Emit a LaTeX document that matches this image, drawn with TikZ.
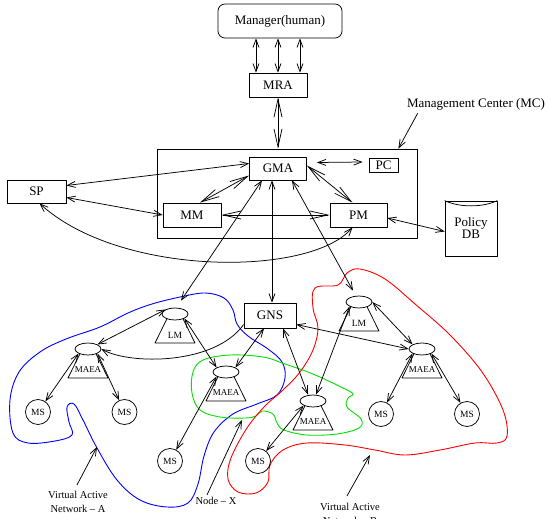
\documentclass[tikz,border=0pt]{standalone}
\usepackage{fontspec}
\setmainfont{Liberation Serif}
\usepackage{tikz}
\usetikzlibrary{arrows.meta,shapes.geometric}
\definecolor{vanA}{RGB}{0,0,255}
\definecolor{vanB}{RGB}{255,0,0}
\definecolor{nodeX}{RGB}{0,225,0}
\tikzset{fig/.style={line join=round,x=1pt,y=-1pt,line width=0.75pt},
  box/.style={draw,inner sep=0pt,font=\fontsize{13}{15}\selectfont},
  ell/.style={draw,ellipse,fill=white,minimum width=26pt,minimum height=12pt,inner sep=0pt},
  ms/.style={draw,circle,minimum size=25pt,inner sep=0pt,font=\fontsize{9.5}{11}\selectfont},
  note/.style={inner sep=0pt,align=center,font=\fontsize{10.5}{14}\selectfont},
  arr/.style={-{Straight Barb[length=8pt,width=6pt]}},
  dbl/.style={{Straight Barb[length=8pt,width=6pt]}-{Straight Barb[length=8pt,width=6pt]}},
  dbllong/.style={{Straight Barb[length=18pt,width=8pt]}-{Straight Barb[length=18pt,width=8pt]}},
  blob/.style={line width=0.9pt,smooth cycle,tension=0.6}}
% agent: ellipse on a trapezoid
\newcommand{\agent}[5]{%
  \draw (#2-8,#3+4.7)--(#2-20,#3+29)--(#2+20,#3+29)--(#2+8,#3+4.7);
  \node[ell] (#1) at (#2,#3) {};
  \node[inner sep=0pt,font=\fontsize{#5}{#5}\selectfont] (#1-lbl) at (#2,#3+21) {#4};}

\begin{document}
\begin{tikzpicture}[fig]
  \useasboundingbox (0,0) rectangle (549,519);
  % virtual networks
  \draw[vanA,blob] plot coordinates {(128,313) (152,304) (180,297) (205,293) (224,298) (233,310) (237,324) (248,336) (268,349) (282,362) (285,378) (277,395) (257,404) (233,414) (214,432) (204,456) (198,484) (188,503) (167,507) (140,500) (117,480) (97,448) (83,420) (74,404) (67,407) (69,422) (72,435) (55,441) (28,443) (13,433) (10,400) (19,372) (40,352) (66,339) (100,327)};
  \draw[nodeX,blob] plot coordinates {(193,372) (203,360) (230,355) (263,357) (285,364) (313,374) (343,388) (353,394) (348,398) (347,407) (361,419) (359,428) (337,434) (307,435) (284,430) (277,423) (273,414) (262,411) (256,416) (245,418) (220,417) (200,410) (192,393)};
  \draw[vanB,blob] plot coordinates {(315,288) (338,285) (347,273) (360,269) (385,279) (415,304) (450,335) (482,372) (503,410) (507,436) (497,443) (475,443) (440,450) (405,455) (375,450) (345,445) (307,443) (283,450) (270,465) (268,482) (256,493) (238,492) (228,479) (231,458) (247,428) (265,406) (283,390) (300,372) (313,350) (318,328) (313,308)};

  % management center
  \node[box,rounded corners=7pt,minimum width=124pt,minimum height=34pt] (mgr) at (280,21) {Manager(human)};
  \node[box,minimum width=58pt,minimum height=24pt] (mra) at (278,85) {MRA};
  \node[draw,inner sep=0pt,minimum width=260pt,minimum height=89pt] (mc) at (287,193.5) {};
  \node[box,minimum width=57pt,minimum height=23pt] (gma) at (278,168.5) {GMA};
  \node[box,minimum width=29pt,minimum height=14pt] (pc) at (383.5,165) {PC};
  \node[box,minimum width=58pt,minimum height=24pt] (mm) at (192,215) {MM};
  \node[box,minimum width=57pt,minimum height=24pt] (pm) at (358.5,215) {PM};
  \node[box,minimum width=59pt,minimum height=23pt] (sp) at (36.5,191.5) {SP};
  \node[box,align=center,minimum width=52pt,minimum height=55pt] (db) at (471,228.5) {Policy\\[-3pt]DB};
  \draw (db.north west) .. controls +(15,7) and +(-15,7) .. (db.north east);
  \node[inner sep=0pt,font=\fontsize{13}{15}\selectfont] (mclbl) at (476,104) {Management Center (MC)};
  \node[box,minimum width=52pt,minimum height=25pt] (gns) at (270,315.5) {GNS};

  % agents and servers
  \agent{lmA}{175}{314}{LM}{9.5}
  \agent{maeaA}{88}{349}{MAEA}{9}
  \agent{maeaB}{226}{372}{MAEA}{9}
  \agent{lmB}{359}{302}{LM}{9.5}
  \agent{maeaC}{422}{349}{MAEA}{9}
  \agent{maeaD}{313}{401}{MAEA}{9}
  \node[ms] (msA1) at (38,412) {MS};
  \node[ms] (msA2) at (124.5,412) {MS};
  \node[ms] (msB) at (170,461) {MS};
  \node[ms] (msD) at (258,461) {MS};
  \node[ms] (msC1) at (381,414) {MS};
  \node[ms] (msC2) at (467,414) {MS};

  % labels
  \node[note] (netA) at (78,502) {Virtual Active\\Network -- A};
  \node[note] (nX) at (216,501) {Node -- X};
  \node[note] (netB) at (350,514) {Virtual Active\\Network -- B};
  \coordinate (pA) at (97,447);
  \coordinate (pX) at (242,420);
  \coordinate (pB) at (370,455);

  % links
  \foreach \dx in {-22,0,22}
    \draw[dbl] ([xshift=\dx pt]mra.north) -- ([xshift=\dx pt]mra.north |- mgr.south);
  \draw[dbllong] (mra.south) -- (mra.south |- mc.north);
  \draw[dbl] ([xshift=10pt,yshift=6pt]gma.east) -- ([xshift=-6pt,yshift=3pt]pc.west);
  \draw[dbl] ([yshift=6pt]sp.east) -- ([yshift=5pt]gma.west);
  \draw[dbl] ([yshift=-6pt]sp.east) -- (mm.west);
  \draw[dbl] ([xshift=3pt]sp.south) .. controls (120,277) and (310,277) .. ([xshift=-6pt]pm.south);
  \draw[dbl] ([yshift=-3pt]pm.east) -- ([yshift=-3pt]db.west);
  \draw[dbllong] ([yshift=-7pt]gma.west) -- ([xshift=8pt]mm.north);
  \draw[dbllong] ([yshift=3pt]gma.east) -- ([xshift=-6pt]pm.north);
  \draw[dbllong] (mm.east) -- (pm.west);
  \draw[arr] ([xshift=11pt,yshift=-3pt]mclbl.south west) -- ([xshift=-19pt]mc.north east);
  \draw[dbl] ([xshift=-16pt]gma.south) -- ([xshift=6pt,yshift=7pt]lmA.north);
  \draw[dbl] ([xshift=-6pt]gma.south) -- ([xshift=-6pt]gma.south |- gns.north);
  \draw[dbl] ([xshift=14pt]gma.south) -- ([xshift=-6pt,yshift=5pt]lmB.north);
  \draw[arr] ([yshift=-9pt]gns.west) .. controls (215,365) and (130,365) .. (maeaA.east);
  \draw[dbl] (lmA.north west) -- (maeaA.north east);
  \draw[dbl] (maeaA.south west) -- (msA1);
  \draw[dbl] (maeaA.south east) -- (msA2);
  \draw[dbl] (lmA.south east) -- (maeaB.north west);
  \draw[dbl] ([xshift=-6pt]gns.south) -- (maeaB.north east);
  \draw[dbl] (maeaB.south west) -- (msB);
  \draw[dbl] ([yshift=-9pt]gns.east) -- (maeaC.west);
  \draw[dbl] ([xshift=13pt]gns.south) -- ([xshift=-5pt]maeaD.north);
  \draw[dbl] (lmB.east) -- (maeaC.north west);
  \draw[dbl] (lmB.south west) -- ([xshift=3pt]maeaD.north);
  \draw[dbl] (maeaC.south west) -- (msC1);
  \draw[dbl] (maeaC.south east) -- (msC2);
  \draw[dbl] (maeaD.south west) -- (msD);
  \draw[arr] ([xshift=-1pt,yshift=6pt]netA.north) -- (pA);
  \draw[arr] ([xshift=-9pt,yshift=2pt]nX.north) -- (pX);
  \draw[arr] ([xshift=-3pt,yshift=7pt]netB.north) -- (pB);
\end{tikzpicture}
\end{document}
